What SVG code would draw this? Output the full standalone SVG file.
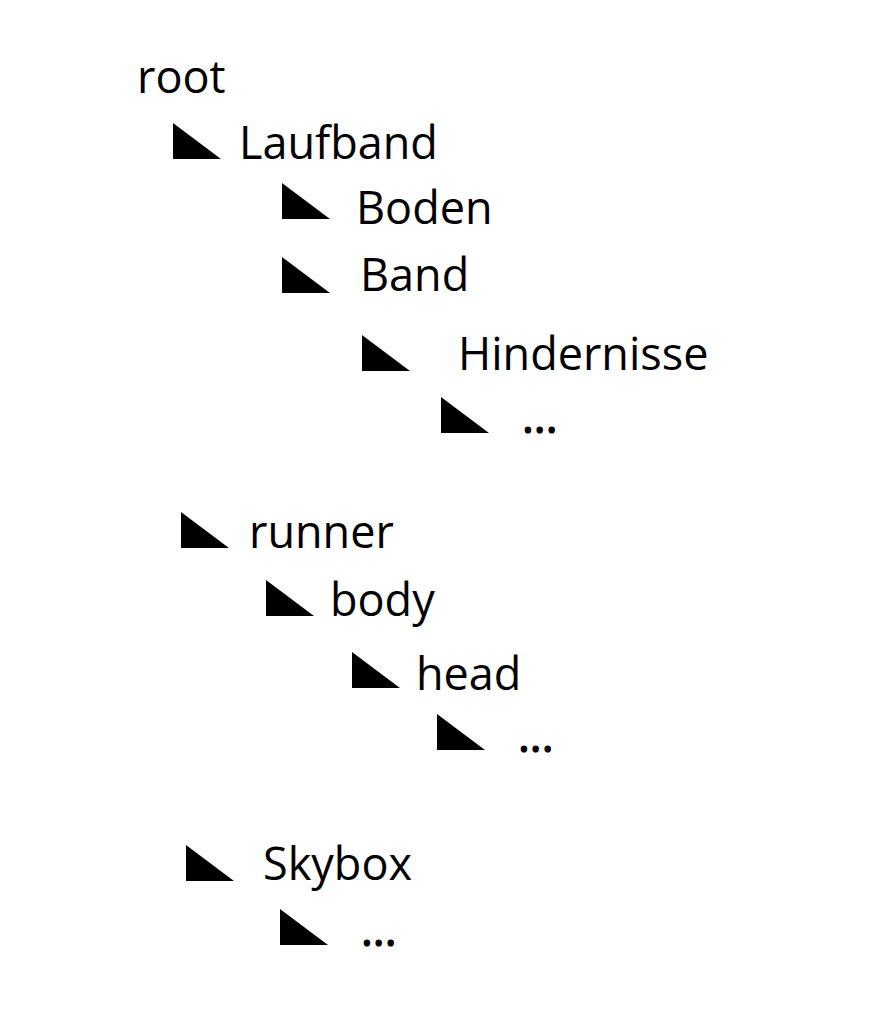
<svg xmlns="http://www.w3.org/2000/svg" xmlns:xlink="http://www.w3.org/1999/xlink" width="873" height="1027" viewBox="0 0 873 1027">
<style>
.t{font-family:"Open Sans","Noto Sans","Liberation Sans",sans-serif;font-size:45px;fill:#000}
.d{font-family:"Open Sans","Noto Sans","Liberation Sans",sans-serif;font-size:45px;fill:#000;stroke:#000;stroke-width:1.2px}
.tri{fill:#000}
</style>
<defs>
<path id="tri" class="tri" d="M0 0 L0 36 L48 36 Z"/>
</defs>
<rect width="873" height="1027" fill="#fff"/>
<g id="connectors"/>
<g id="root"><text class="t" x="137" y="93">root</text></g>
<g id="laufband"><use href="#tri" x="173" y="123"/><text class="t" x="239" y="159">Laufband</text></g>
<g id="boden"><use href="#tri" x="282" y="183"/><text class="t" x="356" y="224">Boden</text></g>
<g id="band"><use href="#tri" x="282" y="257"/><text class="t" x="360" y="291">Band</text></g>
<g id="hindernisse"><use href="#tri" x="362" y="335"/><text class="t" x="458" y="370">Hindernisse</text></g>
<g id="hindernisse-more"><use href="#tri" x="441" y="397"/><text class="d" x="522" y="433">...</text></g>
<g id="runner"><use href="#tri" x="181" y="512"/><text class="t" x="249" y="548">runner</text></g>
<g id="body"><use href="#tri" x="266" y="580"/><text class="t" x="330" y="616">body</text></g>
<g id="head"><use href="#tri" x="352" y="652"/><text class="t" x="416" y="690">head</text></g>
<g id="head-more"><use href="#tri" x="437" y="714"/><text class="d" x="518" y="752">...</text></g>
<g id="skybox"><use href="#tri" x="186" y="845"/><text class="t" x="263" y="880">Skybox</text></g>
<g id="skybox-more"><use href="#tri" x="280" y="909"/><text class="d" x="361" y="946">...</text></g>
</svg>
